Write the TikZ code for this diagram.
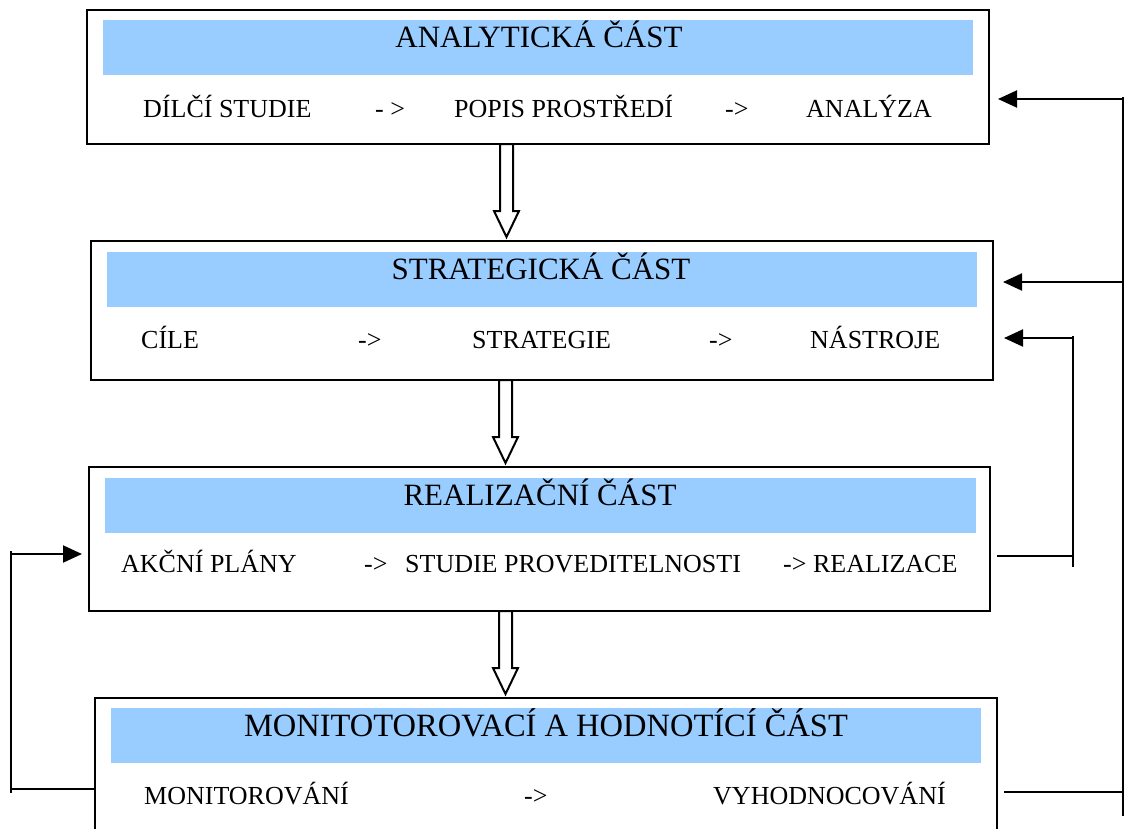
\documentclass[tikz,border=0pt]{standalone}
\usepackage{fontspec}
\setmainfont{Liberation Serif}
\usetikzlibrary{arrows.meta,calc}
\definecolor{band}{HTML}{99CCFF}

\begin{document}
\begin{tikzpicture}[x=1pt,y=-1pt,
			box/.style={draw,line width=2pt,minimum width=902pt,inner sep=0pt},
			band/.style={fill=band,minimum width=870pt,minimum height=55pt,inner sep=0pt},
			title/.style={anchor=base,inner sep=0pt,font=\fontsize{31}{36}\selectfont},
			item/.style={anchor=base west,inner sep=0pt,font=\fontsize{26}{30}\selectfont},
			fb/.style={line width=2pt,-{Triangle[length=19pt,width=17pt]}},
			line/.style={line width=2pt},
			hollow/.style={draw,line width=2pt,fill=white,line join=miter}]
\clip (0,0) rectangle (1125,828);
% boxes
\node[box,minimum height=134pt](ana) at (538,77) {};
\node[box,minimum height=139pt](str) at (542,310.5) {};
\node[box,minimum height=144pt,minimum width=901pt](rea) at (539.5,539) {};
\node[box,minimum height=152pt](mon) at (546,774) {};
% bands
\node[band](anaB) at (538,47.5) {};
\node[band](strB) at (542,279.5) {};
\node[band,minimum width=871pt](reaB) at (540.5,505.5) {};
\node[band](monB) at (546,735.5) {};
% titles
\node[title](anaT) at (539,47) {ANALYTICKÁ ČÁST};
\node[title](strT) at (541,279) {STRATEGICKÁ ČÁST};
\node[title](reaT) at (540,505) {REALIZAČNÍ ČÁST};
\node[title,font=\fontsize{32.5}{36}\selectfont](monT) at (546,736) {MONITOTOROVACÍ A HODNOTÍCÍ ČÁST};
% items
\node[item](a1) at (143,117) {DÍLČÍ STUDIE};
\node[item](a2) at (375,117) {- >};
\node[item](a3) at (454,117) {POPIS PROSTŘEDÍ};
\node[item](a4) at (725,117) {->};
\node[item](a5) at (806,117) {ANALÝZA};
\node[item](s1) at (141,348) {CÍLE};
\node[item](s2) at (358,348) {->};
\node[item](s3) at (472,348) {STRATEGIE};
\node[item](s4) at (709,348) {->};
\node[item](s5) at (810,348) {NÁSTROJE};
\node[item](r1) at (121,572) {AKČNÍ PLÁNY};
\node[item](r2) at (364,572) {->};
\node[item](r3) at (405,572) {STUDIE PROVEDITELNOSTI};
\node[item](r4) at (783,572) {-> REALIZACE};
\node[item](m1) at (144,804) {MONITOROVÁNÍ};
\node[item](m2) at (524,804) {->};
\node[item](m3) at (713,804) {VYHODNOCOVÁNÍ};
% hollow arrows
\foreach \a/\b/\x in {ana/str/506.5, str/rea/505.5, rea/mon/505.5}{
	\coordinate (t) at (\x,0);
	\draw[hollow] ($(t |- \a.south)+(-6.5,-1)$) -- ($(t |- \b.north)+(-6.5,-29)$)
		-- ($(t |- \b.north)+(-12.5,-29)$) -- ($(t |- \b.north)+(0,-3)$)
		-- ($(t |- \b.north)+(12.5,-29)$) -- ($(t |- \b.north)+(6.5,-29)$)
		-- ($(t |- \a.south)+(6.5,-1)$) -- cycle;
}
% feedback
\coordinate (R) at (1123,97);
\coordinate (Rb) at (1123,816);
\coordinate (Q) at (1073,336);
\coordinate (Qb) at (1073,567);
\coordinate (L) at (11,551);
\coordinate (Lb) at (11,793);
\draw[line] (R) -- (Rb);
\draw[fb] (1123,99) -- ([xshift=8pt]ana.east |- 0,99);
\draw[fb] (1123,282) -- ([xshift=9pt]str.east |- 0,282);
\draw[line] ([xshift=6pt]mon.east |- 0,792) -- (1123,792);
\draw[line] ([xshift=6pt]rea.east |- 0,556) -- (1073,556);
\draw[line] (Q) -- (Qb);
\draw[fb] (1073,338) -- ([xshift=10pt]str.east |- 0,338);
\draw[line] (L) -- (Lb);
\draw[fb] (11,554) -- ([xshift=-6pt]rea.west |- 0,554);
\draw[line] (11,789) -- (mon.west |- 0,789);
\end{tikzpicture}
\end{document}
